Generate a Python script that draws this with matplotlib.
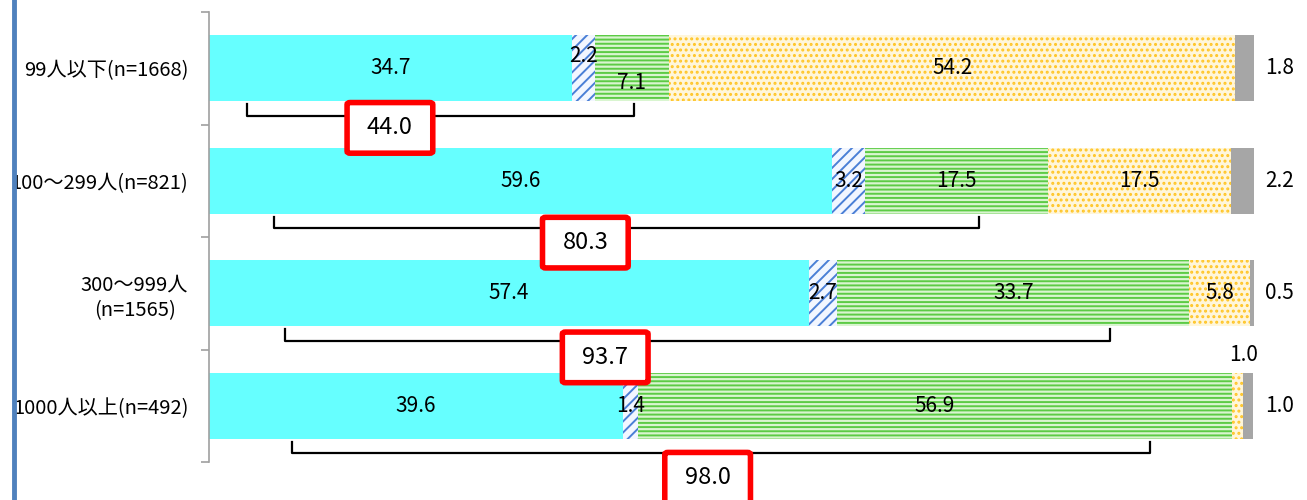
import matplotlib
matplotlib.use("Agg")
import matplotlib.pyplot as plt
from matplotlib.patches import FancyBboxPatch
from matplotlib.lines import Line2D

plt.rcParams['font.family'] = ['Noto Sans CJK JP', 'DejaVu Sans']
plt.rcParams['hatch.linewidth'] = 1.4

categories = ['99人以下(n=1668)', '100〜299人(n=821)', '300〜999人\n(n=1565)', '1000人以上(n=492)']
cyan_vals = [34.7, 59.6, 57.4, 39.6]
blue_vals = [2.2, 3.2, 2.7, 1.4]
green_vals = [7.1, 17.5, 33.7, 56.9]
yellow_vals = [54.2, 17.5, 5.8, 1.0]
gray_vals = [1.8, 2.2, 0.5, 1.0]
totals = [44.0, 80.3, 93.7, 98.0]

# bracket ends (x in %) and box centre for each row
bracket_left = [3.6, 6.2, 7.3, 7.9]
bracket_right = [40.7, 73.7, 86.2, 90.0]
box_x = [17.3, 36.0, 37.9, 47.7]
box_dy = [0.53, 0.55, 0.57, 0.64]

series = [
    (cyan_vals, dict(color='#66FFFF')),
    (blue_vals, dict(facecolor='#F2F6FF', edgecolor='#4A7FD6', hatch='///')),
    (green_vals, dict(facecolor='#D9F5D0', edgecolor='#5CCB45', hatch='----')),
    (yellow_vals, dict(facecolor='#FFF6DA', edgecolor='#FFC526', hatch='...')),
    (gray_vals, dict(color='#A6A6A6')),
]

fig = plt.figure(figsize=(13.07, 5), dpi=100)
ax = fig.add_axes([0.160, 0.076, 0.7996, 0.9])

ypos = list(range(len(categories)))
left = [0.0] * len(categories)
for vals, style in series:
    ax.barh(ypos, vals, left=left, height=0.59, linewidth=0, **style)
    left = [a + b for a, b in zip(left, vals)]

fs = 15
for i in ypos:
    x0 = 0
    for k, (vals, _) in enumerate(series):
        v = vals[i]
        xc = x0 + v / 2
        if k == 4:
            ax.text(102.4, i, f'{v:.1f}', ha='center', va='center', fontsize=fs)
        elif k == 1 and i == 0:
            ax.text(xc, i - 0.11, f'{v:.1f}', ha='center', va='center', fontsize=fs)
        elif k == 2 and i == 0:
            ax.text(xc, i + 0.13, f'{v:.1f}', ha='center', va='center', fontsize=fs)
        elif k == 3 and i == 3:
            ax.text(xc + 0.6, i - 0.45, f'{v:.1f}', ha='center', va='center', fontsize=fs)
        else:
            ax.text(xc, i, f'{v:.1f}', ha='center', va='center', fontsize=fs)
        x0 += v

    # bracket under the bar
    yl = i + 0.42
    ax.plot([bracket_left[i], bracket_left[i], bracket_right[i], bracket_right[i]],
            [i + 0.32, yl, yl, i + 0.32], color='black', lw=1.6, clip_on=False,
            solid_joinstyle='round')
    w, h = 8.2, 0.45
    box = FancyBboxPatch((box_x[i] - w / 2, i + box_dy[i] - h / 2), w, h,
                         boxstyle='round,pad=0,rounding_size=0.3', mutation_aspect=0.06,
                         facecolor='white', edgecolor='#FF0000', linewidth=4,
                         clip_on=False, zorder=5)
    ax.add_patch(box)
    ax.text(box_x[i], i + box_dy[i], f'{totals[i]:.1f}', ha='center', va='center',
            fontsize=17, zorder=6, clip_on=False)

ax.set_xlim(0, 100)
ax.set_ylim(3.5, -0.5)
ax.set_yticks(ypos)
ax.set_yticklabels(categories, fontsize=14.5, multialignment='center', linespacing=1.3)
ax.set_yticks([-0.5, 0.5, 1.5, 2.5, 3.5], minor=True)
ax.tick_params(axis='y', which='major', length=0, pad=15)
ax.tick_params(axis='y', which='minor', length=6, color='#A0A0A0', width=1.2)
ax.set_xticks([])
for s in ['top', 'right', 'bottom']:
    ax.spines[s].set_visible(False)
ax.spines['left'].set_color('#A0A0A0')
ax.spines['left'].set_linewidth(1.2)

fig.add_artist(Line2D([13.5 / 1307, 13.5 / 1307], [0, 1], color='#4F81BD', lw=3.5, zorder=10))

fig.savefig('out.png', dpi=100)
